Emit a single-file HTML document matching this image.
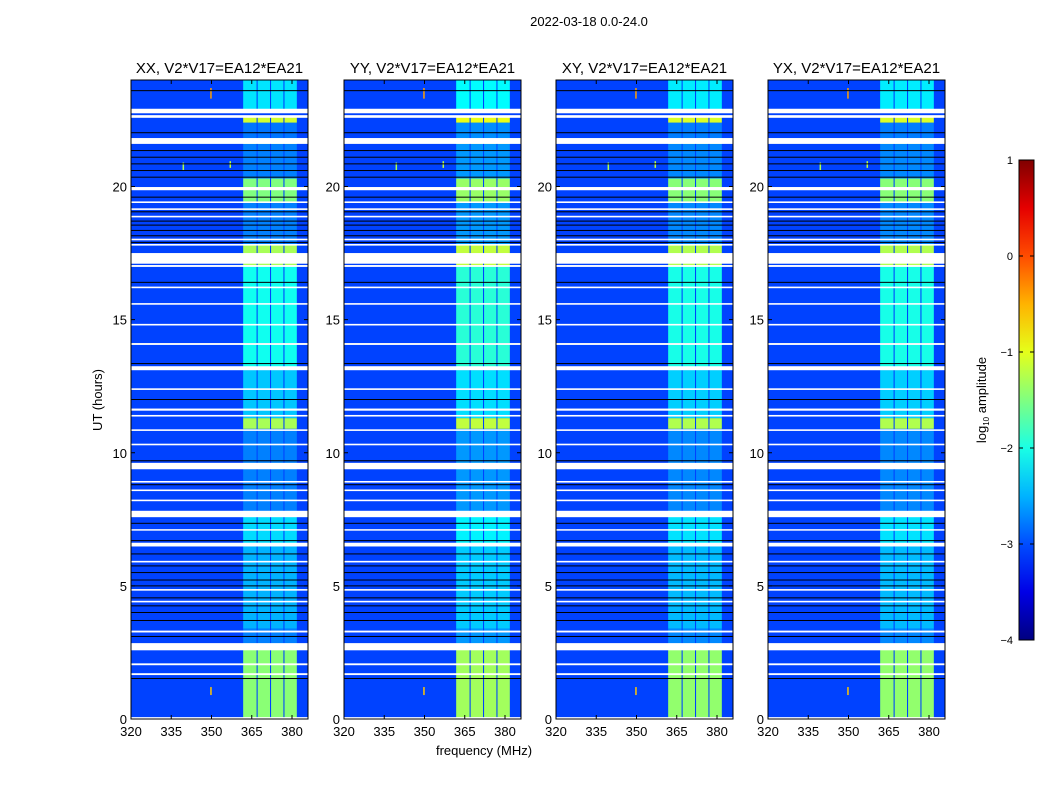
<!DOCTYPE html>
<html><head><meta charset="utf-8">
<style>
html,body{margin:0;padding:0;background:#fff;}
svg{display:block;font-family:"Liberation Sans",sans-serif;}
</style></head>
<body>
<svg id="fig" width="1050" height="800" viewBox="0 0 1050 800">
<text x="589" y="26" font-size="13" text-anchor="middle">2022-03-18 0.0-24.0</text>
<text x="0" y="0" font-size="13" text-anchor="middle" transform="translate(102,400) rotate(-90)">UT (hours)</text>
<text x="484" y="755" font-size="13" text-anchor="middle">frequency (MHz)</text>
</svg>
<script>
// ---- data ----
const panelTitles = ["XX, V2*V17=EA12*EA21","YY, V2*V17=EA12*EA21","XY, V2*V17=EA12*EA21","YX, V2*V17=EA12*EA21"];
const panelGain = [0, 0.12, 0.04, 0.04];            // log10 offset per panel
const backgroundLevel = -3.05;                        // log10 amplitude of off-band
const bandBlocks = [[361.8,366.8],[367.2,371.8],[372.2,376.8],[377.2,381.8]]; // MHz
// time segments of the bright band: [t0, t1, log10 amplitude]
const bandSegments = [
 [0,2.6,-1.45],[2.6,3.4,-2.75],[3.4,6.5,-2.5],[6.5,7.8,-2.3],[7.8,10.9,-2.75],
 [10.9,11.3,-1.3],[11.3,13.1,-2.4],[13.1,17.0,-2.05],[17.0,17.8,-1.3],[17.8,19.4,-2.75],
 [19.4,20.3,-1.5],[20.3,21.6,-2.75],[21.6,21.8,-1.4],[21.8,22.4,-2.8],[22.4,22.6,-1.1],[22.9,24,-2.25]
];
// flagged (white) rows: [t0, t1] hours
const flaggedRows = [
 [0,0.07],[1.65,1.72],[2.02,2.09],[2.58,2.85],[3.25,3.32],[4.38,4.44],[4.82,4.88],[5.88,5.94],
 [6.48,6.62],[7.08,7.13],[7.58,7.82],[8.18,8.24],[8.56,8.62],[8.88,8.94],[9.38,9.62],[10.28,10.34],
 [10.82,10.88],[11.36,11.42],[11.58,11.66],[12.36,12.42],[13.1,13.25],[14.05,14.12],[14.78,14.84],
 [15.56,15.62],[16.18,16.24],[16.98,17.05],[17.1,17.5],[17.78,17.84],[17.98,18.04],[18.84,18.9],
 [19.12,19.18],[19.38,19.44],[19.86,19.98],[21.6,21.82],[22.58,22.68],[22.75,22.92]
];
// dropped (black) integrations, hours
const blackLines = [
 1.52,3.1,3.7,4.0,4.25,4.55,5.0,5.22,5.5,5.75,6.2,6.7,7.35,8.8,9.7,12.0,13.35,14.1,16.4,
 17.9,18.15,18.35,18.55,18.7,19.05,19.6,20.35,20.6,20.85,21.1,21.35,22.02,23.6
];
// narrow RFI features: [freq MHz, t0, t1, log10 amplitude]
const rfiLines = [[339.5,20.6,20.9,-1.3],[357,20.7,20.95,-1.2],[349.8,0.9,1.2,-0.6],[349.8,23.3,23.7,-0.4]];
const xTicks = [320,335,350,365,380];
const xTickLabels = ["320","335","350","365","380"];
const yTicks = [0,5,10,15,20];
const yTickLabels = ["0","5","10","15","20"];
const cbTicks = [1,0,-1,-2,-3,-4];
const cbTickLabels = ["1","0","\u22121","\u22122","\u22123","\u22124"];

// ---- layout ----
const NS="http://www.w3.org/2000/svg";
const svg=document.getElementById('fig');
const panelLeft=[131,344,556,768], PW=177, PT=80, PB=719;
const fMin=320, fPx=161/60, tMax=24;
const fx=(f)=>(f-fMin)*fPx;
const ty=(t)=>PB-PT-(t/tMax)*(PB-PT);
function jet(v){
  const r=Math.min(Math.max(Math.min(4*v-1.5,-4*v+4.5),0),1);
  const g=Math.min(Math.max(Math.min(4*v-0.5,-4*v+3.5),0),1);
  const b=Math.min(Math.max(Math.min(4*v+0.5,-4*v+2.5),0),1);
  return `rgb(${Math.round(r*255)},${Math.round(g*255)},${Math.round(b*255)})`;
}
const lv=(l)=>jet((l+4)/5);
function mk(tag,attrs,parent){const e=document.createElementNS(NS,tag);for(const k in attrs)e.setAttribute(k,attrs[k]);(parent||svg).appendChild(e);return e;}

panelLeft.forEach((L,p)=>{
  const g=mk('g',{transform:`translate(${L},${PT})`});
  
  
  const bg=mk('rect',{x:0,y:0,width:PW,height:PB-PT,fill:lv(backgroundLevel)},g);
  
  
  bandSegments.forEach(s=>{
    bandBlocks.forEach(b=>{
      const r=mk('rect',{x:fx(b[0]),y:ty(s[1]),width:fx(b[1])-fx(b[0]),height:ty(s[0])-ty(s[1]),fill:lv(s[2]+panelGain[p])},g);
      
      
    });
  });
  rfiLines.forEach(q=>{
    const r=mk('rect',{x:fx(q[0])-0.75,y:ty(q[2]),width:1.5,height:ty(q[1])-ty(q[2]),fill:lv(q[3])},g);
    
    
  });
  blackLines.forEach(t=>{
    const r=mk('rect',{x:0,y:ty(t)-0.5,width:PW,height:1,fill:'#000'},g);
    
    
  });
  flaggedRows.forEach(f=>{
    const r=mk('rect',{x:0,y:ty(f[1]),width:PW,height:Math.max(ty(f[0])-ty(f[1]),1.5),fill:'#fff'},g);
    
    
  });
  const fr=mk('rect',{x:0,y:0,width:PW,height:PB-PT,fill:'none',stroke:'#000','stroke-width':1},g);
  
  
  xTicks.forEach((t,i)=>{
    mk('line',{x1:fx(t),x2:fx(t),y1:PB-PT,y2:PB-PT-4,stroke:'#000'},g);
    mk('line',{x1:fx(t),x2:fx(t),y1:0,y2:4,stroke:'#000'},g);
    const tx=mk('text',{x:fx(t),y:PB-PT+17,'font-size':13,'text-anchor':'middle'},g);
    tx.textContent=xTickLabels[i];
    
    
  });
  yTicks.forEach((t,i)=>{
    mk('line',{x1:0,x2:4,y1:ty(t),y2:ty(t),stroke:'#000'},g);
    mk('line',{x1:PW,x2:PW-4,y1:ty(t),y2:ty(t),stroke:'#000'},g);
    const tx=mk('text',{x:-4,y:ty(t)+5,'font-size':13,'text-anchor':'end'},g);
    tx.textContent=yTickLabels[i];
    
    
  });
  const tt=mk('text',{x:PW/2,y:-7,'font-size':15,'text-anchor':'middle'},g);
  tt.textContent=panelTitles[p];
  
  
});

// colorbar
const CBx=1019,CBw=15,CBt=160,CBb=640;
const cy=(v)=>CBt+(1-v)/5*(CBb-CBt);
const defs=mk('defs',{});
const grad=mk('linearGradient',{id:'jetg',x1:0,y1:1,x2:0,y2:0},defs);
for(let i=0;i<=10;i++){mk('stop',{offset:i/10,'stop-color':jet(i/10)},grad);}
const cb=mk('rect',{x:CBx,y:CBt,width:CBw,height:CBb-CBt,fill:'url(#jetg)',stroke:'#000'});


cbTicks.forEach((t,i)=>{
  mk('line',{x1:CBx,x2:CBx+4,y1:cy(t),y2:cy(t),stroke:'#000'});
  mk('line',{x1:CBx+CBw,x2:CBx+CBw-4,y1:cy(t),y2:cy(t),stroke:'#000'});
  const tx=mk('text',{x:CBx-6,y:cy(t)+4,'font-size':11,'text-anchor':'end'});
  tx.textContent=cbTickLabels[i];
  
  
});
const cl=mk('text',{x:0,y:0,'font-size':13,'text-anchor':'middle',transform:'translate(986,400) rotate(-90)'});
cl.innerHTML='log<tspan font-size="8" dy="3">10</tspan><tspan dy="-3"> amplitude</tspan>';


</script>
</body></html>
